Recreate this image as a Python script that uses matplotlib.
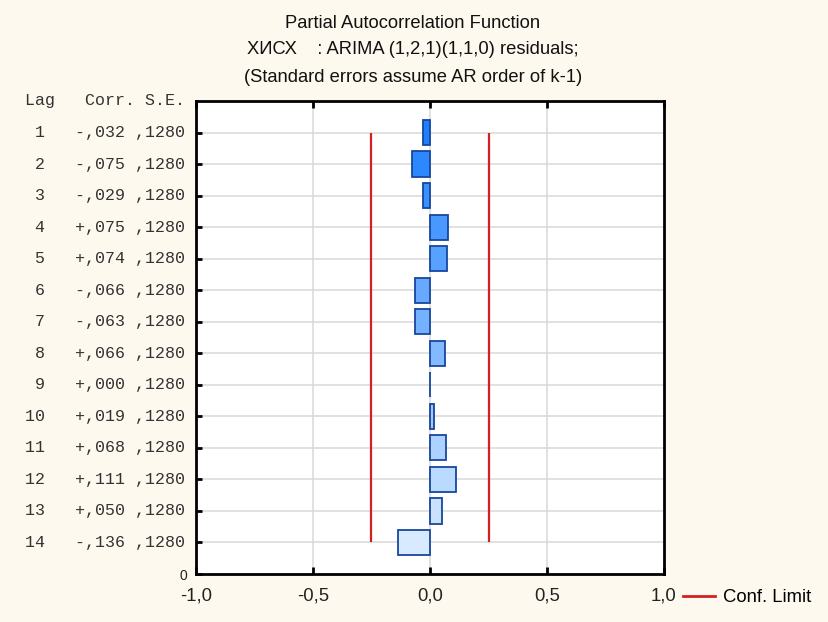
import matplotlib
matplotlib.use("Agg")
import matplotlib.pyplot as plt
from matplotlib.lines import Line2D
import numpy as np

lags = list(range(1, 15))
corr = [-0.032, -0.075, -0.029, 0.075, 0.074, -0.066, -0.063,
        0.066, 0.000, 0.019, 0.068, 0.111, 0.050, -0.136]
corr_labels = ["-,032", "-,075", "-,029", "+,075", "+,074", "-,066", "-,063",
               "+,066", "+,000", "+,019", "+,068", "+,111", "+,050", "-,136"]
se_labels = [",1280"] * 14
conf_limit = 0.2509
xticks = [-1.0, -0.5, 0.0, 0.5, 1.0]
xtick_labels = ["-1,0", "-0,5", "0,0", "0,5", "1,0"]

W, H = 829, 622
bg = "#FDF9EE"
fig = plt.figure(figsize=(W / 100, H / 100), dpi=100, facecolor=bg)
ax = fig.add_axes([196 / W, 1 - 574 / H, (664 - 196) / W, (574 - 101) / H])
ax.set_facecolor("white")

ax.set_xlim(-1, 1)
ax.set_ylim(15, 0)

c0 = np.array([30, 128, 255]) / 255
c1 = np.array([216, 234, 255]) / 255
n = len(lags)
colors = [tuple(c0 + (c1 - c0) * i / (n - 1)) for i in range(n)]

ax.barh(lags, corr, height=0.8, left=0, color=colors, edgecolor="#17479C",
        linewidth=1.3, zorder=3)

ax.vlines([-conf_limit, conf_limit], 1, 14, color="#D42020", linewidth=1.6, zorder=4)

# grid
for x in [-0.5, 0.0, 0.5]:
    ax.axvline(x, color="#D8D8D8", linewidth=1.1, zorder=1)
for y in lags:
    ax.axhline(y, color="#D8D8D8", linewidth=1.1, zorder=1)

for s in ax.spines.values():
    s.set_linewidth(2)
    s.set_color("black")

ax.set_xticks(xticks)
ax.set_xticklabels(xtick_labels, fontfamily="Liberation Sans", fontsize=13.3,
                   color="#222222")
ax.tick_params(axis="x", direction="in", length=5, width=2, pad=10, top=True, labeltop=False)
ax.set_yticks(lags + [15])
ax.set_yticklabels([""] * 14 + ["0"], fontfamily="Liberation Sans", fontsize=10,
                   color="#222222")
ax.tick_params(axis="y", direction="in", length=4, width=2, pad=6)

# row labels in monospace
lab_x = -11 / (664 - 196)
for lag, cl, se in zip(lags, corr_labels, se_labels):
    ax.text(lab_x, lag, f"{lag:>2}   {cl} {se}", transform=ax.get_yaxis_transform(),
            ha="right", va="center", fontfamily="Liberation Mono", fontsize=12,
            color="#333333")
ax.text(lab_x, 0.0, "Lag   Corr. S.E.", transform=ax.get_yaxis_transform(),
        ha="right", va="center", fontfamily="Liberation Mono", fontsize=12,
        color="#333333")

# title
tx = 413 / W
for yy, t in [(23, "Partial Autocorrelation Function"),
              (49, "ХИСХ    : ARIMA (1,2,1)(1,1,0) residuals;"),
              (77, "(Standard errors assume AR order of k-1)")]:
    fig.text(tx, 1 - yy / H, t, ha="center", va="center",
             fontfamily="Liberation Sans", fontsize=13.2, color="#111111")

handle = Line2D([], [], color="#D42020", linewidth=2)
fig.legend([handle], ["Conf. Limit"], loc="center left",
           bbox_to_anchor=(683 / W, 1 - 598 / H), frameon=False,
           borderaxespad=0, borderpad=0, handlelength=1.75, handletextpad=0.4,
           prop={"family": "Liberation Sans", "size": 13.3})

fig.savefig("out.png", dpi=100, facecolor=bg)
